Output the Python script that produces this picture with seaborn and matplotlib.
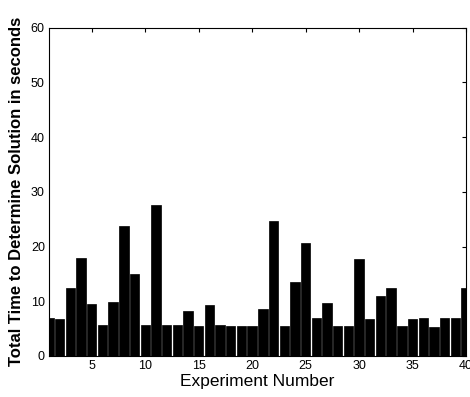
import matplotlib
matplotlib.use("Agg")
import matplotlib.pyplot as plt
import seaborn as sns
import pandas as pd

experiments = list(range(1, 41))
times = [7.0, 6.8, 12.5, 17.9, 9.5, 5.6, 9.8, 23.8, 15.0, 5.6,
         27.6, 5.6, 5.6, 8.2, 5.4, 9.4, 5.7, 5.5, 5.4, 5.5,
         8.6, 24.6, 5.5, 13.6, 20.7, 6.9, 9.6, 5.5, 5.4, 17.7,
         6.7, 11.0, 12.5, 5.5, 6.8, 6.9, 5.3, 7.0, 6.9, 12.4]
xticks = [5, 10, 15, 20, 25, 30, 35, 40]
yticks = [0, 10, 20, 30, 40, 50, 60]

df = pd.DataFrame({"exp": experiments, "time": times})

sns.set_style("white")
plt.rcParams['font.family'] = ['Liberation Sans', 'DejaVu Sans']

fig = plt.figure(figsize=(4.70, 3.97), dpi=100)
ax = fig.add_axes([49/470, 1 - 356/397, (466-49)/470, (356-27.5)/397])
sns.barplot(data=df, x="exp", y="time", native_scale=True, color="black",
            edgecolor="black", linewidth=0.5, width=0.88, saturation=1, ax=ax)
ax.set_xlim(1, 40)
ax.set_ylim(0, 60)
ax.set_xticks(xticks)
ax.set_yticks(yticks)
ax.tick_params(direction="in", top=True, right=True, length=3, width=0.8,
               labelsize=9, pad=3, colors="black")
for s in ax.spines.values():
    s.set_visible(True)
    s.set_color("black")
    s.set_linewidth(0.8)
ax.set_xlabel("Experiment Number", fontsize=12.5, labelpad=1, color="black")
ax.set_ylabel("Total Time to Determine Solution in seconds", fontsize=12,
              fontweight="bold", labelpad=5, color="black")
fig.savefig("out.png", dpi=100)
